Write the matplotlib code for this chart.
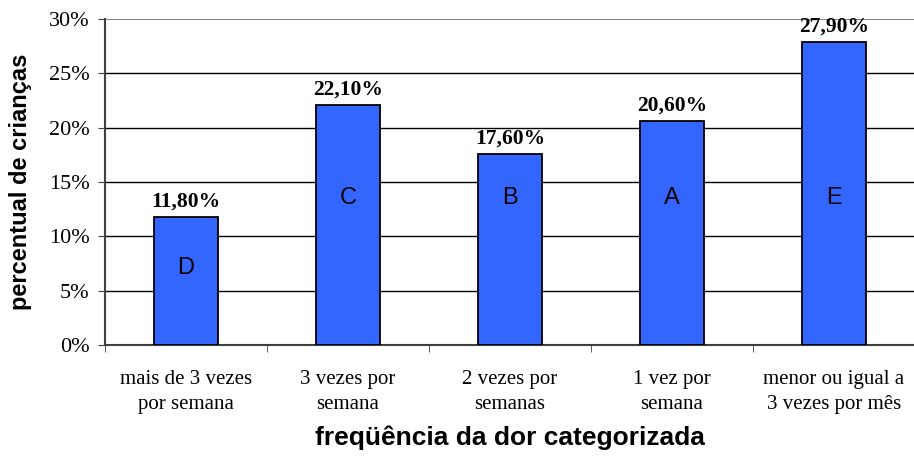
import matplotlib.pyplot as plt

# dados
categorias = ["mais de 3 vezes\npor semana", "3 vezes por\nsemana", "2 vezes por\nsemanas",
              "1 vez por\nsemana", "menor ou igual a\n3 vezes por mês"]
valores = [11.8, 22.1, 17.6, 20.6, 27.9]
letras = ["D", "C", "B", "A", "E"]
rotulos = ["11,80%", "22,10%", "17,60%", "20,60%", "27,90%"]
yticks = [0, 5, 10, 15, 20, 25, 30]

fig = plt.figure(figsize=(9.14, 4.57), dpi=100)
ax = fig.add_axes([105 / 914, 1 - 345 / 457, 810 / 914, 326 / 457])

x = range(len(valores))
ax.bar(x, valores, width=0.4, color="#3366FF", edgecolor="black", linewidth=1.3, zorder=3)

for i, v in enumerate(valores):
    ax.text(i, v + 0.5, rotulos[i], ha="center", va="bottom", family="Liberation Serif",
            fontweight="bold", fontsize=15.5, zorder=4)
    ly = 13.5 if v > 15 else v * 0.6
    ax.text(i, ly, letras[i], ha="center", va="center", family="Liberation Sans",
            fontsize=17, zorder=4)

ax.set_xlim(-0.5, len(valores) - 0.5)
ax.set_ylim(0, 30)
ax.set_yticks(yticks)
ax.set_yticklabels([f"{t}%" for t in yticks], family="Liberation Serif", fontsize=16)
ax.set_xticks(list(x))
ax.set_xticklabels(categorias, family="Liberation Serif", fontsize=15, linespacing=1.45)
ax.tick_params(axis="x", length=0, pad=18)
ax.set_xticks([i - 0.5 for i in range(len(valores) + 1)], minor=True)
ax.tick_params(axis="x", which="minor", length=5, color="#404040")
ax.tick_params(axis="y", length=5, color="#404040", pad=6)

for t in yticks[1:-1]:
    ax.axhline(t, color="black", linewidth=1, zorder=1)
ax.axhline(30, color="#808080", linewidth=1.5, zorder=1)

for s in ["top", "right"]:
    ax.spines[s].set_visible(False)
ax.spines["left"].set_color("#404040")
ax.spines["bottom"].set_color("#404040")
ax.spines["left"].set_linewidth(1.5)
ax.spines["bottom"].set_linewidth(1.5)

ax.set_xlabel("freqüência da dor categorizada", family="Liberation Sans", fontweight="bold",
              fontsize=19, labelpad=8)
ax.set_ylabel("percentual de crianças", family="Liberation Sans", fontweight="bold",
              fontsize=17, labelpad=12)

fig.savefig("out.png", dpi=100)
